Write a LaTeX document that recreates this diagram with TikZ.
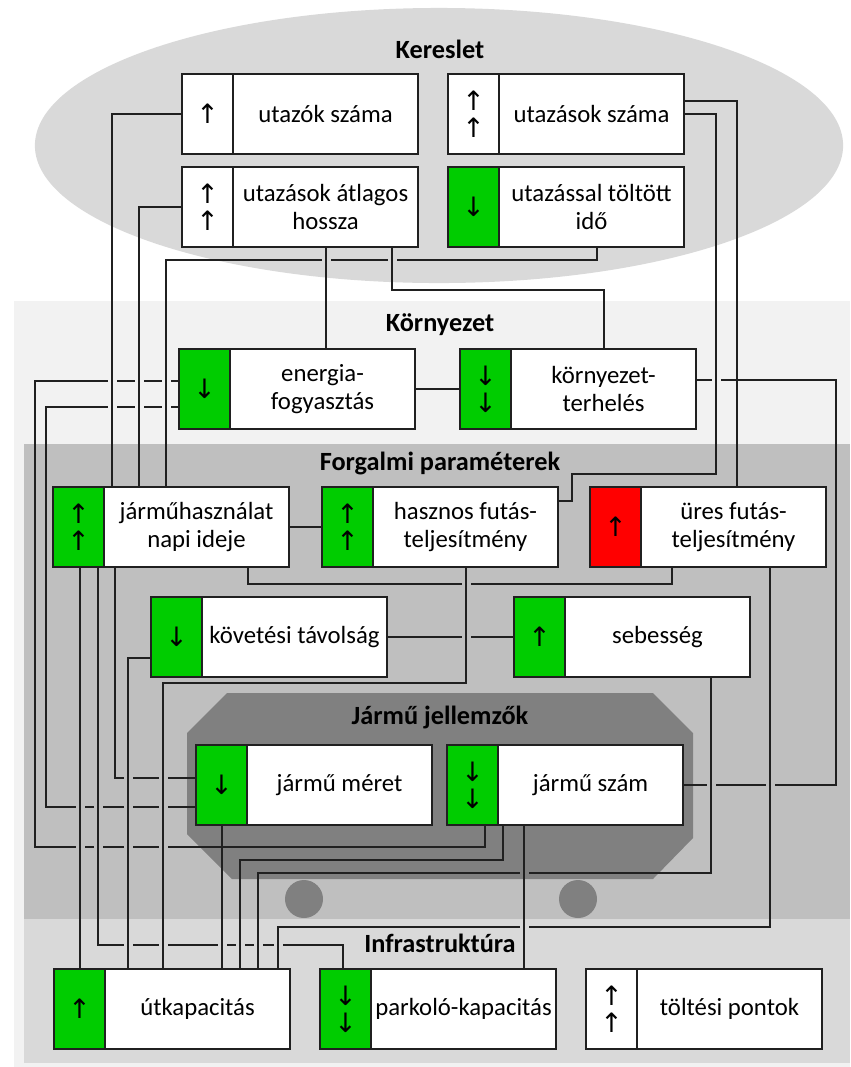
\documentclass[tikz,border=0pt]{standalone}
\usepackage{fontspec}
\setmainfont{Carlito}
\newfontfamily\nyilbetu{DejaVu Sans}
\usetikzlibrary{positioning,calc}

\definecolor{zold}{RGB}{0,204,0}
\definecolor{piros}{RGB}{255,0,0}
\definecolor{vonal}{RGB}{32,32,32}
\definecolor{szurke1}{RGB}{242,242,242}
\definecolor{szurke2}{RGB}{217,217,217}
\definecolor{szurke3}{RGB}{191,191,191}
\definecolor{szurke4}{RGB}{128,128,128}

\newcommand\szoveg{\fontsize{17.6pt}{19.9pt}\selectfont}
\newcommand\cimbetu{\fontsize{18.7pt}{20pt}\selectfont\bfseries}
\newcommand\nyil{\nyilbetu\fontsize{19pt}{19pt}\selectfont}
\newcommand\athidal[3]{%
    \fill[#3] (#1-4.5,#2-2.2) rectangle (#1+4.5,#2+2.2);
    \draw[kapcsolat] (#1,#2-3) -- (#1,#2+3);}

\tikzset{
    jel/.style={draw=vonal, line width=1pt, minimum width=1.275cm, minimum height=2cm, inner sep=0pt, outer sep=0pt, align=center, font=\nyil},
    tenyezo/.style={draw=vonal, line width=1pt, fill=white, minimum width=4.625cm, minimum height=2cm, inner sep=1pt, outer sep=0pt, align=center, font=\szoveg},
    kapcsolat/.style={draw=vonal, line width=0.8pt},
    cim/.style={font=\cimbetu, inner sep=0pt}
}

\begin{document}
\begin{tikzpicture}[x=0.025cm, y=-0.025cm]
    \useasboundingbox (0,0) rectangle (850,1067);

    \fill[szurke1] (14,301) rectangle (850,1067);
    \fill[szurke3] (24,444) rectangle (850,919);
    \fill[szurke2] (24,919) rectangle (850,1063);
    \fill[szurke2] (439,145.5) ellipse [x radius=10.1cm, y radius=3.4375cm];
    \fill[szurke4] (227,693) -- (653,693) -- (693,733) -- (693,838) -- (653,879) -- (232,879) -- (187,834) -- (187,733) -- cycle;
    \fill[szurke4] (304,899) circle [radius=0.475cm];
    \fill[szurke4] (578,899) circle [radius=0.475cm];

    \node[cim] (kereslet) at (440,49) {Kereslet};
    \node[cim] (kornyezet) at (440,325) {Környezet};
    \node[cim] (forgalmi) at (440,463) {Forgalmi paraméterek};
    \node[cim] (jarmu) at (440,717) {Jármű jellemzők};
    \node[cim] (infra) at (440,943) {Infrastruktúra};

    \node[jel, fill=white] (utazok-jel) at (207.5,114) {↑};
    \node[tenyezo, right=0pt of utazok-jel] (utazok) {utazók száma};
    \node[jel, fill=white] (utazasok-jel) at (473.5,114) {↑\\↑};
    \node[tenyezo, right=0pt of utazasok-jel] (utazasok) {utazások száma};
    \node[jel, fill=white] (hossz-jel) at (207.5,207) {↑\\↑};
    \node[tenyezo, right=0pt of hossz-jel] (hossz) {utazások átlagos\\hossza};
    \node[jel, fill=zold] (ido-jel) at (473.5,207) {↓};
    \node[tenyezo, right=0pt of ido-jel] (ido) {utazással töltött\\idő};

    \node[jel, fill=zold] (energia-jel) at (204.5,389) {↓};
    \node[tenyezo, right=0pt of energia-jel] (energia) {energia-\\fogyasztás};
    \node[jel, fill=zold] (terheles-jel) at (485.5,389) {↓\\↓};
    \node[tenyezo, right=0pt of terheles-jel] (terheles) {környezet-\\terhelés};

    \node[jel, fill=zold] (hasznalat-jel) at (78.5,527) {↑\\↑};
    \node[tenyezo, right=0pt of hasznalat-jel] (hasznalat) {járműhasználat\\napi ideje};
    \node[jel, fill=zold] (hasznos-jel) at (347.5,527) {↑\\↑};
    \node[tenyezo, right=0pt of hasznos-jel] (hasznos) {hasznos futás-\\teljesítmény};
    \node[jel, fill=piros] (ures-jel) at (615.5,527) {↑};
    \node[tenyezo, right=0pt of ures-jel] (ures) {üres futás-\\teljesítmény};
    \node[jel, fill=zold] (kovetes-jel) at (176.5,637) {↓};
    \node[tenyezo, right=0pt of kovetes-jel] (kovetes) {követési távolság};
    \node[jel, fill=zold] (sebesseg-jel) at (539.5,637) {↑};
    \node[tenyezo, right=0pt of sebesseg-jel] (sebesseg) {sebesség};

    \node[jel, fill=zold] (meret-jel) at (221.5,785) {↓};
    \node[tenyezo, right=0pt of meret-jel] (meret) {jármű méret};
    \node[jel, fill=zold] (szam-jel) at (472.5,785) {↓\\↓};
    \node[tenyezo, right=0pt of szam-jel] (szam) {jármű szám};

    \node[jel, fill=zold] (utkap-jel) at (79.5,1009) {↑};
    \node[tenyezo, right=0pt of utkap-jel] (utkap) {útkapacitás};
    \node[jel, fill=zold] (parkolo-jel) at (345.5,1009) {↓\\↓};
    \node[tenyezo, right=0pt of parkolo-jel] (parkolo) {parkoló-kapacitás};
    \node[jel, fill=white] (toltes-jel) at (611.5,1009) {↑\\↑};
    \node[tenyezo, right=0pt of toltes-jel] (toltes) {töltési pontok};

    \draw[kapcsolat] (utazok-jel.west) -| ($(hasznalat-jel.north west)+(59,0)$);
    \draw[kapcsolat] (hossz-jel.west) -| ($(hasznalat-jel.north west)+(86,0)$);
    \draw[kapcsolat] ($(ido-jel.south west)+(149,0)$) -- ++(0,13) -| ($(hasznalat-jel.north west)+(113,0)$);
    \draw[kapcsolat] ($(hossz-jel.south west)+(144,0)$) coordinate (h1) -- (h1 |- energia.north);
    \draw[kapcsolat] ($(hossz-jel.south west)+(210,0)$) -- ++(0,43) -| ($(terheles-jel.north west)+(144,0)$);
    \draw[kapcsolat] ($(utazasok.east)+(0,-13)$) -| ($(ures-jel.north west)+(147,0)$);
    \draw[kapcsolat] (utazasok.east) -- ++(32,0) -- ++(0,360) -| ($(hasznos.east)+(14,-26)$) -- ($(hasznos.east)+(0,-26)$);
    \draw[kapcsolat] ($(energia-jel.west)+(0,-8)$) -- ++(-144,0) -- ++(0,466) -| ($(szam-jel.south west)+(38,0)$);
    \draw[kapcsolat] ($(energia-jel.west)+(0,18)$) -- ++(-133,0) |- ($(meret-jel.west)+(0,22)$);
    \draw[kapcsolat] (energia.east) -- (terheles-jel.west);
    \draw[kapcsolat] ($(terheles.east)+(0,-9)$) -- ++(140,0) |- (szam.east);
    \draw[kapcsolat] (hasznalat.east) -- (hasznos-jel.west);
    \draw[kapcsolat] ($(hasznalat-jel.south west)+(27,0)$) coordinate (j1) -- (j1 |- utkap-jel.north);
    \draw[kapcsolat] ($(hasznalat-jel.south west)+(45,0)$) -- ++(0,378) -| ($(parkolo-jel.north west)+(23,0)$);
    \draw[kapcsolat] ($(hasznalat-jel.south west)+(62,0)$) |- ($(meret-jel.west)+(0,-7)$);
    \draw[kapcsolat] ($(hasznalat-jel.south west)+(195,0)$) -- ++(0,17) -| ($(ures-jel.south west)+(82,0)$);
    \draw[kapcsolat] ($(hasznos-jel.south west)+(144,0)$) -- ++(0,116) -| ($(utkap-jel.north west)+(109,0)$);
    \draw[kapcsolat] ($(kovetes-jel.west)+(0,21)$) -| ($(utkap-jel.north west)+(74,0)$);
    \draw[kapcsolat] (kovetes.east) -- (sebesseg-jel.west);
    \draw[kapcsolat] ($(sebesseg-jel.south west)+(197,0)$) -- ++(0,196) -| ($(utkap-jel.north west)+(204,0)$);
    \draw[kapcsolat] ($(ures-jel.south west)+(180,0)$) -- ++(0,360) -| ($(utkap-jel.north west)+(224,0)$);
    \draw[kapcsolat] ($(meret-jel.south west)+(26,0)$) coordinate (m1) -- (m1 |- utkap-jel.north);
    \draw[kapcsolat] ($(szam-jel.south west)+(56,0)$) -- ++(0,35) -| ($(utkap-jel.north west)+(186,0)$);
    \draw[kapcsolat] ($(szam-jel.south west)+(77,0)$) coordinate (s1) -- (s1 |- parkolo-jel.north);

    \athidal{326}{260}{szurke2}
    \athidal{392}{260}{szurke2}
    \foreach \x in {112,139,166} {
        \athidal{\x}{381}{szurke1}
        \athidal{\x}{407}{szurke1}
    }
    \athidal{716}{380}{szurke1}
    \athidal{466}{584}{szurke3}
    \athidal{466}{637}{szurke3}
    \foreach \x in {128,163} {\athidal{\x}{778}{szurke3}}
    \foreach \x in {80,98,128,163} {
        \athidal{\x}{807}{szurke3}
        \athidal{\x}{847}{szurke3}
    }
    \athidal{711}{785}{szurke3}
    \athidal{770}{785}{szurke3}
    \athidal{524}{873}{szurke4}
    \athidal{524}{927}{szurke2}
    \foreach \x in {128,163,222,240,258,278} {\athidal{\x}{945}{szurke2}}
\end{tikzpicture}
\end{document}
